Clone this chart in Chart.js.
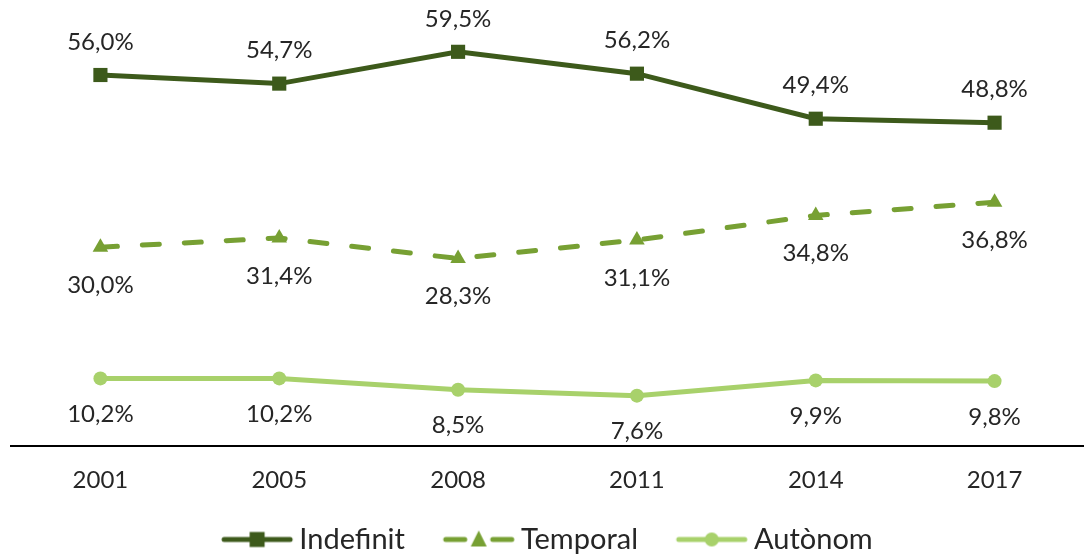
<!DOCTYPE html>
<html>
<head>
<meta charset="utf-8">
<script src="https://cdn.jsdelivr.net/npm/chart.js@4"></script>
<style>
html,body{margin:0;padding:0;background:#fff;}
#wrap{width:1084px;height:557px;position:relative;}
</style>
</head>
<body>
<div id="wrap"><canvas id="c" width="1084" height="557"></canvas></div>
<script>
const categories = ['2001', '2005', '2008', '2011', '2014', '2017'];
const indefinit = [56.0, 54.7, 59.5, 56.2, 49.4, 48.8];
const temporal = [30.0, 31.4, 28.3, 31.1, 34.8, 36.8];
const autonom = [10.2, 10.2, 8.5, 7.6, 9.9, 9.8];
const seriesNames = ['Indefinit', 'Temporal', 'Autònom'];

const C_IND = '#3D5A1B';
const C_TEM = '#77A033';
const C_AUT = '#A8D16B';
const TXT = '#262626';
const FONT = 'Lato, "Open Sans", sans-serif';

// legend icon: canvas 110 wide, visible line+marker from x=37 to x=109
function legendIcon(color, style, dashed) {
  const cv = document.createElement('canvas');
  cv.width = 110; cv.height = 20;
  const g = cv.getContext('2d');
  const L = 37, W = 72, cx = L + W / 2;
  g.strokeStyle = color; g.fillStyle = color;
  g.lineWidth = 5; g.lineCap = 'round';
  if (dashed) {
    g.beginPath(); g.moveTo(L + 3, 10); g.lineTo(L + 22, 10); g.stroke();
    g.beginPath(); g.moveTo(L + 50, 10); g.lineTo(L + 69, 10); g.stroke();
  } else {
    g.beginPath(); g.moveTo(L + 3, 10); g.lineTo(L + 69, 10); g.stroke();
  }
  g.beginPath();
  if (style === 'rect') { g.rect(cx - 7.5, 10 - 7.5, 15, 15); }
  else if (style === 'triangle') { g.moveTo(cx, 1); g.lineTo(cx + 8, 17); g.lineTo(cx - 8, 17); g.closePath(); }
  else { g.arc(cx, 10, 7, 0, Math.PI * 2); }
  g.fill();
  return cv;
}

const icons = [legendIcon(C_IND, 'rect', false), legendIcon(C_TEM, 'triangle', true), legendIcon(C_AUT, 'circle', false)];

const labelPlugin = {
  id: 'valueLabels',
  afterLayout(chart) {
    if (chart.legend) { chart.legend.left -= 16; chart.legend.right -= 16; }
  },
  afterDatasetsDraw(chart) {
    const ctx = chart.ctx;
    ctx.save();
    ctx.font = '24px ' + FONT;
    ctx.fillStyle = TXT;
    ctx.textAlign = 'center';
    ctx.textBaseline = 'middle';
    const offsets = [-33, 38, 36];
    chart.data.datasets.forEach((ds, i) => {
      const meta = chart.getDatasetMeta(i);
      meta.data.forEach((pt, j) => {
        const txt = ds.data[j].toFixed(1).replace('.', ',') + '%';
        ctx.fillText(txt, pt.x, pt.y + offsets[i]);
      });
    });
    ctx.restore();
  }
};

new Chart(document.getElementById('c'), {
  type: 'line',
  data: {
    labels: categories,
    datasets: [
      { label: seriesNames[0], data: indefinit, borderColor: C_IND, backgroundColor: C_IND, borderWidth: 5,
        pointStyle: 'rect', pointRadius: 10, pointBorderWidth: 0, pointBackgroundColor: C_IND, tension: 0 },
      { label: seriesNames[1], data: temporal, borderColor: C_TEM, backgroundColor: C_TEM, borderWidth: 5,
        borderDash: [17, 25], borderCapStyle: 'round',
        pointStyle: 'triangle', pointRadius: 9, pointBorderWidth: 0, pointBackgroundColor: C_TEM, tension: 0 },
      { label: seriesNames[2], data: autonom, borderColor: C_AUT, backgroundColor: C_AUT, borderWidth: 5,
        pointStyle: 'circle', pointRadius: 7, pointBorderWidth: 0, pointBackgroundColor: C_AUT, tension: 0 }
    ]
  },
  options: {
    responsive: false,
    animation: false,
    layout: { autoPadding: false, padding: { left: 11, right: -3, top: 22, bottom: -7 } },
    plugins: {
      tooltip: { enabled: false },
      legend: {
        position: 'bottom',
        labels: {
          usePointStyle: true,
          pointStyleWidth: 91.5,
          boxWidth: 91.5,
          boxHeight: 20,
          padding: 10,
          color: TXT,
          font: { size: 29, family: FONT },
          generateLabels(chart) {
            return chart.data.datasets.map((ds, i) => ({
              text: ds.label, pointStyle: icons[i], fillStyle: ds.borderColor,
              strokeStyle: ds.borderColor, lineWidth: 0, hidden: false, datasetIndex: i, fontColor: TXT
            }));
          }
        }
      }
    },
    scales: {
      x: {
        offset: true,
        grid: { display: true, drawOnChartArea: false, drawTicks: true, tickLength: 20, tickColor: 'rgba(0,0,0,0)' },
        border: { display: true, color: '#000', width: 2 },
        ticks: { color: TXT, font: { size: 24, family: FONT }, padding: 0 },
        afterFit(s) { s.height = 69; }
      },
      y: { display: false, min: 0, max: 64 }
    }
  },
  plugins: [labelPlugin]
});
</script>
</body>
</html>
